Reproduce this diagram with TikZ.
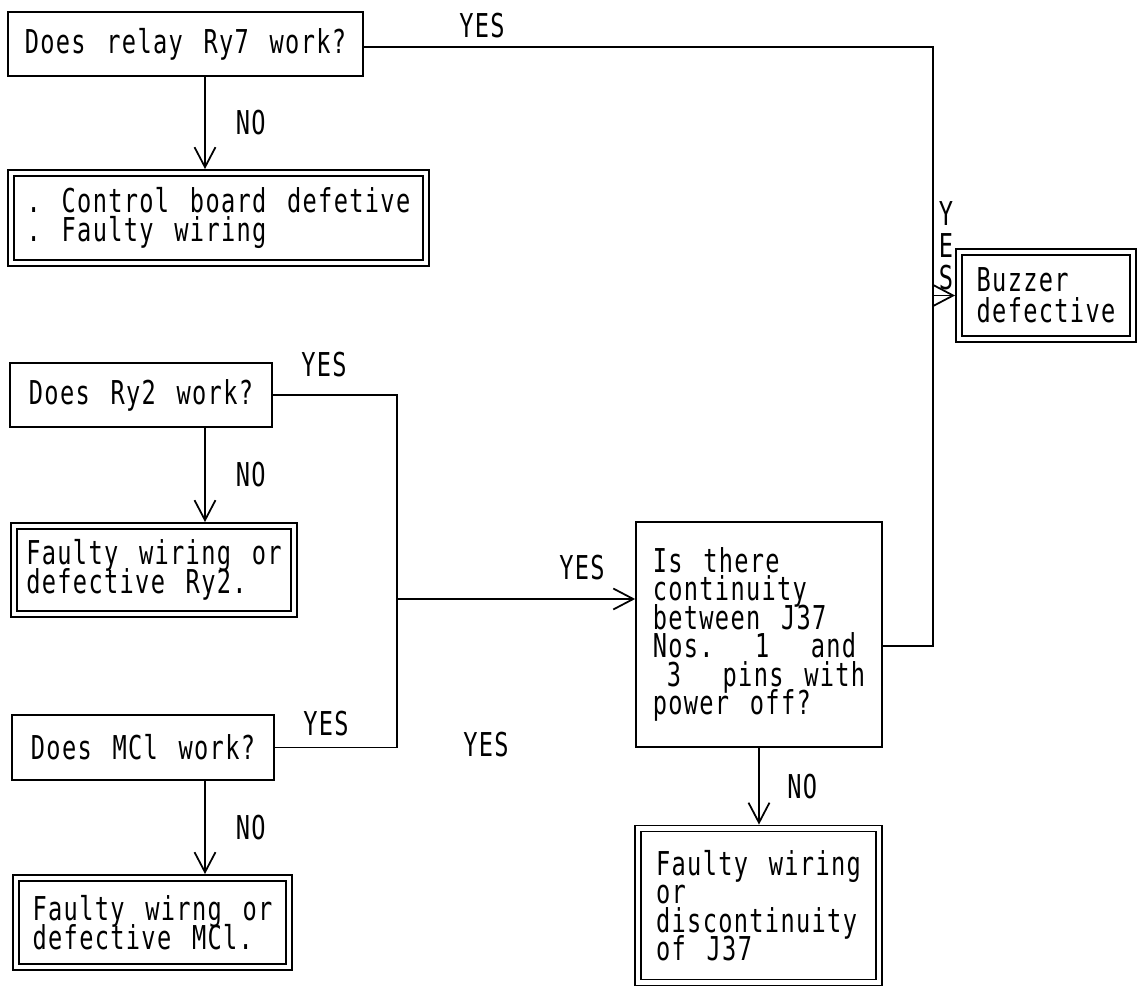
\documentclass[tikz,border=0pt]{standalone}
\usepackage{fontspec}
\newfontfamily\panelfont[FakeStretch=0.72, LetterSpace=4]{DejaVu Sans Mono}
\usetikzlibrary{arrows.meta}
% wide word gaps, tight leading
\newcommand{\chartfont}{\panelfont\fontsize{18.7pt}{16.2pt}\selectfont\spaceskip=11.8pt\xspaceskip=11.8pt\lineskiplimit=-\maxdimen\lineskip=0pt\relax}
\newcommand{\stackfont}{\panelfont\fontsize{18.7pt}{18.2pt}\selectfont\lineskiplimit=-\maxdimen\lineskip=0pt\relax}

\begin{document}
\begin{tikzpicture}[x=0.02cm, y=-0.02cm,
		question/.style={draw, line width=1pt, font=\chartfont, align=center, inner sep=0pt},
		result/.style={question, double, double distance=2.5pt, outer sep=2.25pt},
		answer/.style={font=\chartfont, inner sep=0pt},
		flow/.style={line width=1pt},
		go/.style={flow, -{Straight Barb[length=4mm, width=4.2mm]}}]
		\useasboundingbox (0,0) rectangle (1144,989);
		
		% checks and what they lead to
		\node (ry7) [question, minimum width=7.1cm, minimum height=1.28cm] at (185.5,44) {Does relay Ry7 work?};
		\node (ry7res) [result, align=left, minimum width=8.3cm, minimum height=1.8cm] at (218.5,218) {. Control board defetive\\. Faulty wiring};
		\node (buzz) [result, align=left, minimum width=3.48cm, minimum height=1.74cm] at (1046,295.5) {Buzzer\\[1.5pt]defective};
		\node (ry2) [question, minimum width=5.24cm, minimum height=1.28cm] at (141,395) {Does Ry2 work?};
		\node (ry2res) [result, align=left, minimum width=5.6cm, minimum height=1.76cm] at (154,570) {Faulty wiring or\\defective Ry2.};
		\node (mc1) [question, minimum width=5.24cm, minimum height=1.3cm] at (143,747.5) {Does MCl work?};
		\node (mc1res) [result, align=left, minimum width=5.46cm, minimum height=1.78cm] at (152.5,922.5) {Faulty wirng or\\defective MCl.};
		\node (cont) [question, align=left, minimum width=4.92cm, minimum height=4.5cm] at (759,634.5) {Is there\\continuity\\between J37\\Nos.\ \ 1\ \ and\\\hphantom{0}3\ \ pins with\\power off?};
		\node (contres) [result, align=left, minimum width=4.82cm, minimum height=3.08cm] at (758.5,905.5) {Faulty wiring\\or\\discontinuity\\of J37};
		
		\coordinate (lane) at (205,0);
		\coordinate (join) at (397,599);
		\coordinate (topr) at (933,47);
		\coordinate (loopr) at (933,646);
		
		% NO branches
		\draw[go] (ry7.south -| lane) -- node[answer, midway, right=0.6cm] (ry7no) {NO} (ry7res.north -| lane);
		\draw[go] (ry2.south -| lane) -- node[answer, midway, right=0.6cm] (ry2no) {NO} (ry2res.north -| lane);
		\draw[go] (mc1.south -| lane) -- node[answer, midway, right=0.6cm] (mc1no) {NO} (mc1res.north -| lane);
		\draw[go] (cont.south) -- node[answer, midway, right=0.55cm] (contno) {NO} (cont.south |- contres.north);
		
		% YES branches
		\draw[flow] (ry7.east |- topr) -- (topr) -- (loopr) -- (loopr -| cont.east);
		\draw[go] (buzz.west -| topr) -- (buzz.west);
		\draw[flow] (ry2.east) -- (ry2.east -| join) -- (mc1.east -| join) -- (mc1.east);
		\draw[go] (join) -- (join -| cont.west);
		
		\node[answer] (ry7yes) at (482,26) {YES};
		\node[answer, align=center, font=\stackfont] (buzzyes) at (946,246) {Y\\E\\S};
		\node[answer] (ry2yes) at (324,365) {YES};
		\node[answer] (mc1yes) at (326,724) {YES};
		\node[answer] (joinyes) at (582,568) {YES};
		\node[answer] (spareyes) at (486,745) {YES};
	\end{tikzpicture}
\end{document}
